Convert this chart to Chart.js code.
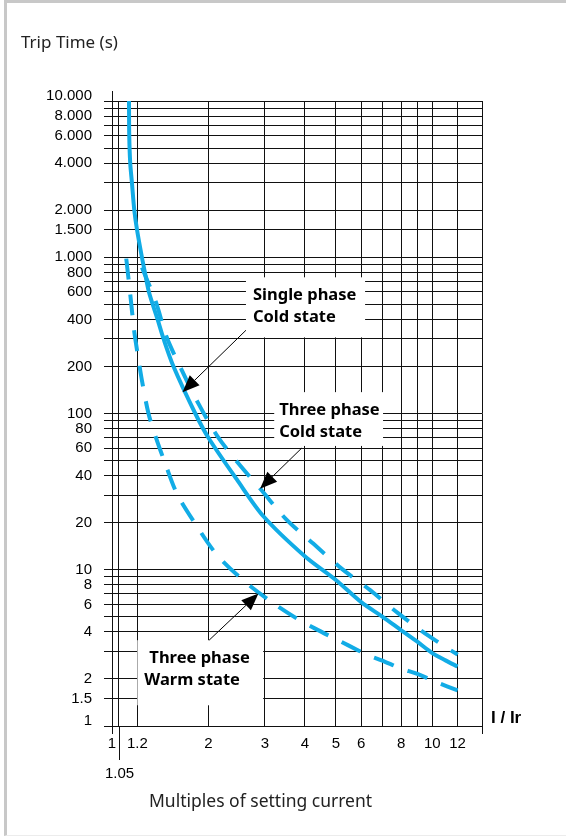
<!DOCTYPE html>
<html>
<head>
<meta charset="utf-8">
<script src="https://cdn.jsdelivr.net/npm/chart.js@4.4.1/dist/chart.umd.min.js"></script>
<style>
  html, body { margin: 0; padding: 0; background: #fff; }
  #page { position: relative; width: 566px; height: 837px; overflow: hidden; background: #fff; }
  #frame { position: absolute; left: 4px; top: 0; right: 0; bottom: 1px; border-top: 3px solid #c8c8c8; border-left: 3px solid #c8c8c8; border-bottom: 1px solid #ececec; }
  #chart { position: absolute; left: 0; top: 0; }
  .txt { position: absolute; white-space: nowrap; color: #222; line-height: 20px; }
  #ytitle { left: 21px; top: 32px; font-family: 'Noto Sans', sans-serif; font-size: 17px; }
  #xtitle { left: 149px; top: 790px; font-family: 'Noto Sans', sans-serif; font-size: 17.5px; }
  #xunit { left: 491px; top: 708px; font-family: 'Liberation Sans', Arial, sans-serif; font-size: 17px; font-weight: bold; color: #000; }
</style>
</head>
<body>
<div id="page">
  <div id="frame"></div>
  <canvas id="chart" width="566" height="837"></canvas>
  <div class="txt" id="ytitle">Trip Time (s)</div>
  <div class="txt" id="xtitle">Multiples of setting current</div>
  <div class="txt" id="xunit">I / Ir</div>
</div>
<script>
const CYAN = '#12ace6';
const INK = '#111';

// grid lines and their labels
const X_MIN = 1, X_MAX = 14.3;
const X_GRID = [1, 1.05, 1.2, 2, 3, 4, 5, 6, 7, 8, 9, 10, 12, 14.3];
const X_LABELS = ['1', '', '1.2', '2', '3', '4', '5', '6', '', '8', '', '10', '12', ''];
const Y_MIN = 1, Y_MAX = 10000;
const Y_GRID = [1, 1.5, 2, 3, 4, 5, 6, 7, 8, 9, 10, 20, 30, 40, 50, 60, 70, 80, 90,
  100, 200, 300, 400, 500, 600, 700, 800, 900, 1000, 1500, 2000, 3000, 4000, 5000,
  6000, 7000, 8000, 9000, 10000];
const Y_LABELS = ['1', '1.5', '2', '', '4', '', '6', '', '8', '', '10', '20', '', '40', '', '60', '', '80', '',
  '100', '200', '', '400', '', '600', '', '800', '', '1.000', '1.500', '2.000', '', '4.000', '',
  '6.000', '', '8.000', '', '10.000'];

// Single phase, cold state (solid)
const SINGLE_X = [1.130, 1.132, 1.140, 1.154, 1.174, 1.197, 1.24, 1.267, 1.304, 1.388, 1.449, 1.556, 1.82, 2.0, 2.45, 2.97, 4.0, 5.0, 6.0, 7.0, 8.0, 9.0, 10.0, 11.0, 12.0];
const SINGLE_Y = [10000, 6000, 4000, 3000, 2000, 1500, 1000, 800, 600, 400, 300, 200, 100, 70, 38, 22, 12.2, 8.6, 6.2, 5.0, 4.1, 3.45, 2.93, 2.63, 2.4];
// Three phase, cold state (upper dashed)
const COLD_X = [1.24, 1.37, 1.48, 1.65, 1.86, 2.13, 2.48, 2.94, 3.5, 4.25, 5.2, 6.4, 7.8, 9.7, 12];
const COLD_Y = [860, 520, 310, 190, 116, 72, 48, 32, 21, 14.7, 10.2, 7.4, 5.3, 3.8, 2.86];
// Three phase, warm state (lower dashed)
const WARM_X = [1.108, 1.141, 1.174, 1.20, 1.24, 1.30, 1.375, 1.46, 1.595, 1.82, 2.13, 2.57, 3.15, 3.78, 4.31, 4.97, 5.47, 6.32, 6.95, 8.0, 8.94, 10.3, 12];
const WARM_Y = [980, 571, 332, 247, 163, 100, 69, 49, 30.7, 19.7, 12.4, 8.56, 6.22, 4.87, 4.2, 3.62, 3.28, 2.83, 2.63, 2.33, 2.16, 1.91, 1.69];

// callouts: text, box corners (x1, y1, x2, y2 in data units), text indent, arrow start and tip
const NOTE_TEXT = [['Single phase', 'Cold state'], ['Three phase', 'Cold state'], ['Three phase', 'Warm state']];
const NOTE_BOX = [[2.62, 744, 6.17, 307], [3.21, 137, 7.02, 62], [1.2, 3.54, 2.965, 1.357]];
const NOTE_INDENT = [[7, 7], [5, 5], [12, 7]];
const NOTE_FROM = [[2.62, 341], [3.91, 60], [2.01, 3.54]];
const NOTE_TO = [[1.66, 137], [2.90, 33], [2.866, 7.04]];

const pts = (xs, ys) => xs.map((v, i) => ({ x: v, y: ys[i] }));

const notesPlugin = {
    id: 'notes',
    beforeDatasetsDraw(chart) {
        const { ctx, chartArea, scales: { x, y } } = chart;
        ctx.save();
        NOTE_BOX.forEach((b, i) => {
            const l = x.getPixelForValue(b[0]), t = y.getPixelForValue(b[1]);
            const r = x.getPixelForValue(b[2]), btm = y.getPixelForValue(b[3]);
            ctx.fillStyle = '#fff';
            ctx.fillRect(l, t, r - l, btm - t);
            ctx.fillStyle = '#000';
            ctx.font = 'bold 16.5px "Noto Sans", sans-serif';
            ctx.textBaseline = 'middle';
            ctx.textAlign = 'left';
            NOTE_TEXT[i].forEach((line, j) => ctx.fillText(line, l + NOTE_INDENT[i][j], t + 18 + j * 22));
        });
        // axis line sticks out above the plot, long tick for 1.05
        ctx.strokeStyle = INK;
        ctx.lineWidth = 1;
        const x1 = Math.round(x.getPixelForValue(1)) + 0.5;
        const x105 = Math.round(x.getPixelForValue(1.05)) + 0.5;
        ctx.beginPath();
        ctx.moveTo(x1, chartArea.top - 10);
        ctx.lineTo(x1, chartArea.top);
        ctx.moveTo(x105, chartArea.bottom);
        ctx.lineTo(x105, chartArea.bottom + 34);
        ctx.stroke();
        ctx.fillStyle = '#000';
        ctx.font = '15px "Liberation Sans", Arial, sans-serif';
        ctx.textAlign = 'center';
        ctx.textBaseline = 'middle';
        ctx.fillText('1.05', x105, chartArea.bottom + 48);
        ctx.restore();
    },
    afterDatasetsDraw(chart) {
        const { ctx, scales: { x, y } } = chart;
        ctx.save();
        ctx.strokeStyle = '#000';
        ctx.fillStyle = '#000';
        ctx.lineWidth = 1;
        NOTE_FROM.forEach((f, i) => {
            const x0 = x.getPixelForValue(f[0]), y0 = y.getPixelForValue(f[1]);
            const xt = x.getPixelForValue(NOTE_TO[i][0]), yt = y.getPixelForValue(NOTE_TO[i][1]);
            const a = Math.atan2(yt - y0, xt - x0);
            const len = 17, half = 7;
            const bx = xt - Math.cos(a) * len, by = yt - Math.sin(a) * len;
            ctx.beginPath();
            ctx.moveTo(x0, y0);
            ctx.lineTo(bx, by);
            ctx.stroke();
            ctx.beginPath();
            ctx.moveTo(xt, yt);
            ctx.lineTo(bx + Math.sin(a) * half, by - Math.cos(a) * half);
            ctx.lineTo(bx - Math.sin(a) * half, by + Math.cos(a) * half);
            ctx.closePath();
            ctx.fill();
        });
        ctx.restore();
    }
};

const curve = (data, dash) => ({
    data, borderColor: CYAN, borderWidth: 4, borderDash: dash, pointRadius: 0,
    fill: false, tension: 0.3, borderCapStyle: 'butt'
});

new Chart(document.getElementById('chart'), {
    type: 'line',
    data: {
        datasets: [
            curve(pts(SINGLE_X, SINGLE_Y), []),
            curve(pts(COLD_X, COLD_Y), [21, 15]),
            curve(pts(WARM_X, WARM_Y), [21, 15])
        ]
    },
    options: {
        responsive: false,
        animation: false,
        devicePixelRatio: 1,
        layout: { padding: { top: 101, right: 84, bottom: 0, left: 0 } },
        plugins: { legend: { display: false }, tooltip: { enabled: false } },
        scales: {
            x: {
                type: 'logarithmic', min: X_MIN, max: X_MAX,
                afterBuildTicks: s => { s.ticks = X_GRID.map(v => ({ value: v })); },
                afterFit: s => { s.height = 111; },
                grid: {
                    color: INK, lineWidth: 1, tickLength: 8,
                    tickColor: c => (c.tick && (c.tick.value === 1 || c.tick.value === X_MAX)) ? INK : 'rgba(0,0,0,0)'
                },
                border: { display: true, color: INK, width: 1 },
                ticks: {
                    autoSkip: false, maxRotation: 0, minRotation: 0, padding: 1, color: '#000',
                    font: { family: "'Liberation Sans', Arial, sans-serif", size: 15 },
                    callback: (v, i) => X_LABELS[i]
                }
            },
            y: {
                type: 'logarithmic', min: Y_MIN, max: Y_MAX,
                afterBuildTicks: s => { s.ticks = Y_GRID.map(v => ({ value: v })); },
                afterFit: s => { s.width = 112; },
                grid: { color: INK, lineWidth: 1, tickLength: 8, tickColor: INK },
                border: { display: true, color: INK, width: 1 },
                ticks: {
                    autoSkip: false, padding: 12, color: '#000',
                    font: { family: "'Liberation Sans', Arial, sans-serif", size: 15, lineHeight: 0.7 },
                    // end labels sit a little above their lines, as in the print
                    callback: (v, i) => (i === 0 || i === Y_GRID.length - 1) ? [Y_LABELS[i], ''] : Y_LABELS[i]
                }
            }
        }
    },
    plugins: [notesPlugin]
});
</script>
</body>
</html>
